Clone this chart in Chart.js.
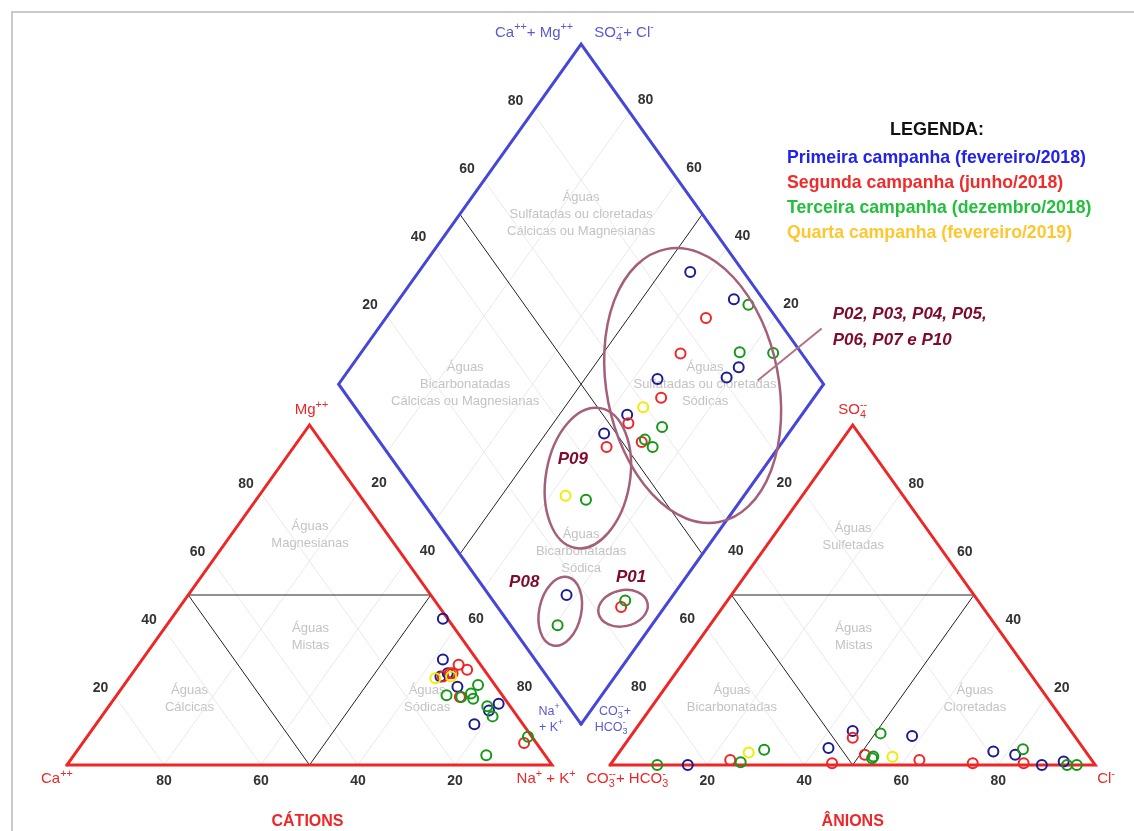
<!DOCTYPE html>
<html lang="pt-BR">
<head>
<meta charset="utf-8">
<title>Diagrama de Piper</title>
<script src="https://cdn.jsdelivr.net/npm/chart.js@4.4.1/dist/chart.umd.min.js"></script>
<style>
  html, body { margin: 0; padding: 0; background: #ffffff; }
  #wrap { width: 1134px; height: 831px; }
  canvas { display: block; }
</style>
</head>
<body>
<div id="wrap"><canvas id="piper" width="1134" height="831"></canvas></div>
<script>
// ---- Sample data (percentages of meq/L) ----
const campaignNames = [
  'Primeira campanha (fevereiro/2018)',
  'Segunda campanha (junho/2018)',
  'Terceira campanha (dezembro/2018)',
  'Quarta campanha (fevereiro/2019)'
];
// campaign index of every sample
const sampleCampaign = [0, 0, 0, 0, 0, 0, 0, 0,
                        1, 1, 1, 1, 1, 1, 1,
                        2, 2, 2, 2, 2, 2, 2, 2, 2,
                        3, 3];
// cations
const pctCa  = [1, 8, 2, 5, 8, 10, 7, 10,   4.5, 7, 3.5, 7.5, 9, 9.5, 2.5,   11.5, 8.7, 6.5, 3.5, 6.2, 4.7, 12.1, 5.1, 0.8,   11.3, 7.8];
const pctMg  = [43, 23, 18, 16, 27, 26, 31, 12,   29.5, 27, 28, 27, 20, 26, 6.5,   20.5, 20, 19.5, 23.5, 21, 17.3, 2.9, 14.3, 8.3,   25.5, 26];
const pctNaK = [56, 69, 80, 79, 65, 64, 62, 78,   66, 66, 68.5, 65.5, 71, 64.5, 91,   68, 71.3, 74, 73, 72.8, 78, 85, 80.6, 90.9,   63.2, 66.2];
// anions
const pctHCO3 = [11, 6, 15, 19, 33.5, 45, 52.5, 84,   14.5, 25, 35.5, 46, 46, 54, 74.5,   66, 45, 44.5, 39.6, 3.8, 12.6, 5.8, 90.3, 72.7,   69.6, 40.6];
const pctSO4  = [0, 1, 3, 4, 8.5, 10, 5, 0,   0.5, 0.5, 1.5, 8, 3, 0.5, 1.5,   4.5, 2, 2.5, 9.3, 0, 4.6, 0, 0, 0.8,   3.7, 2.4];
const pctCl   = [89, 93, 82, 77, 58, 45, 42.5, 16,   85, 74.5, 63, 46, 51, 45.5, 24,   29.5, 53, 53, 51.1, 96.2, 82.8, 94.2, 9.7, 26.5,   26.7, 57];
// axis tick values and grid steps
const tickValues = [20, 40, 60, 80];
const gridValues = [20, 40, 60, 80];

// ---- Styles ----
const FONT = '"Liberation Sans", Arial, Helvetica, sans-serif';
const markerColors = ['#1c1c92', '#f22424', '#179717', '#eeee00'];
const legendColors = ['#2222ee', '#ee2c2c', '#22c03c', '#ffc62e'];
const RED = '#ee2626';
const BLUE = '#4646d8';
const GRID = '#e9e9e9';
const DARK = '#222222';

// ---- Piper geometry (triangle side = 100 units) ----
const SQ = Math.sqrt(3) / 2;
const GAP = 12;
function cationXY(ca, mg, nak) {
  const s = ca + mg + nak;
  const m = mg / s * 100, n = nak / s * 100;
  return { x: n + m / 2, y: m * SQ };
}
function anionXY(hco3, so4, cl) {
  const s = hco3 + so4 + cl;
  const so = so4 / s * 100, c = cl / s * 100;
  return { x: 100 + GAP + c + so / 2, y: so * SQ };
}
function diamondXY(nak, hco3) {
  return { x: 100 + GAP / 2 + (nak - hco3) / 2, y: SQ * (GAP + 200 - nak - hco3) };
}

// scale ranges: units -> canvas
const PX_X = 4.85, PX_Y = 340 / (100 * SQ);
const X_MIN = -67 / PX_X, X_MAX = X_MIN + 1134 / PX_X;
const Y_MIN = -66 / PX_Y, Y_MAX = Y_MIN + 831 / PX_Y;

function polyline(pts, color, width, order) {
  return {
    data: pts, showLine: true, borderColor: color, borderWidth: width,
    pointRadius: 0, pointHoverRadius: 0, fill: false, order: order,
    borderJoinStyle: 'miter', borderCapStyle: 'square'
  };
}

const datasets = [];
// light 20 % grid
gridValues.forEach(v => {
  datasets.push(polyline([cationXY(v, 0, 100 - v), cationXY(v, 100 - v, 0)], GRID, 1, 40));
  datasets.push(polyline([cationXY(100 - v, 0, v), cationXY(0, 100 - v, v)], GRID, 1, 40));
  datasets.push(polyline([anionXY(v, 0, 100 - v), anionXY(v, 100 - v, 0)], GRID, 1, 40));
  datasets.push(polyline([anionXY(100 - v, 0, v), anionXY(0, 100 - v, v)], GRID, 1, 40));
  datasets.push(polyline([diamondXY(v, 0), diamondXY(v, 100)], GRID, 1, 40));
  datasets.push(polyline([diamondXY(0, v), diamondXY(100, v)], GRID, 1, 40));
});
// water-type boundaries
datasets.push(polyline([cationXY(50, 50, 0), cationXY(0, 50, 50), cationXY(50, 0, 50), cationXY(50, 50, 0)], DARK, 1, 30));
datasets.push(polyline([anionXY(50, 50, 0), anionXY(0, 50, 50), anionXY(50, 0, 50), anionXY(50, 50, 0)], DARK, 1, 30));
datasets.push(polyline([diamondXY(0, 50), diamondXY(100, 50)], DARK, 1, 30));
datasets.push(polyline([diamondXY(50, 0), diamondXY(50, 100)], DARK, 1, 30));
// outlines
datasets.push(polyline([cationXY(100, 0, 0), cationXY(0, 0, 100), cationXY(0, 100, 0), cationXY(100, 0, 0)], RED, 3, 20));
datasets.push(polyline([anionXY(100, 0, 0), anionXY(0, 0, 100), anionXY(0, 100, 0), anionXY(100, 0, 0)], RED, 3, 20));
datasets.push(polyline([diamondXY(100, 100), diamondXY(100, 0), diamondXY(0, 0), diamondXY(0, 100), diamondXY(100, 100)], BLUE, 3, 20));

// samples, one dataset per campaign
campaignNames.forEach((name, k) => {
  const pts = [];
  sampleCampaign.forEach((c, i) => {
    if (c !== k) return;
    const cs = pctCa[i] + pctMg[i] + pctNaK[i];
    const as = pctHCO3[i] + pctSO4[i] + pctCl[i];
    pts.push(cationXY(pctCa[i], pctMg[i], pctNaK[i]));
    pts.push(anionXY(pctHCO3[i], pctSO4[i], pctCl[i]));
    pts.push(diamondXY(pctNaK[i] / cs * 100, pctHCO3[i] / as * 100));
  });
  datasets.push({
    label: name, data: pts, showLine: false,
    pointRadius: 5, pointHoverRadius: 5, pointBorderWidth: 2,
    pointBorderColor: markerColors[k], pointBackgroundColor: 'rgba(0,0,0,0)',
    order: 4 - k
  });
});

// ---- text helpers ----
const N = t => ({ t, k: 'n' });
const SUP = t => ({ t, k: 'sup' });
const SS = (sub, sup) => ({ t: [sub, sup], k: 'ss' });

function drawRich(ctx, parts, x, y, o) {
  const size = o.size, small = size * 0.72;
  const st = o.style || 'normal', wt = o.weight || 'normal';
  const big = `${st} ${wt} ${size}px ${FONT}`;
  const sm = `${st} ${wt} ${small}px ${FONT}`;
  const widths = parts.map(p => {
    if (p.k === 'n') { ctx.font = big; return ctx.measureText(p.t).width; }
    ctx.font = sm;
    if (p.k === 'ss') return Math.max(ctx.measureText(p.t[0]).width, ctx.measureText(p.t[1]).width);
    return ctx.measureText(p.t).width;
  });
  const total = widths.reduce((a, b) => a + b, 0);
  const align = o.align || 'center';
  let cx = align === 'center' ? x - total / 2 : (align === 'right' ? x - total : x);
  const base = y + size * 0.36;
  ctx.fillStyle = o.color;
  ctx.textAlign = 'left';
  ctx.textBaseline = 'alphabetic';
  parts.forEach((p, i) => {
    if (p.k === 'n') { ctx.font = big; ctx.fillText(p.t, cx, base); }
    else if (p.k === 'sup') { ctx.font = sm; ctx.fillText(p.t, cx, base - size * 0.42); }
    else { ctx.font = sm; ctx.fillText(p.t[0], cx, base + size * 0.27); ctx.fillText(p.t[1], cx, base - size * 0.42); }
    cx += widths[i];
  });
}

function text(ctx, str, x, y, font, color, align) {
  ctx.font = font;
  ctx.fillStyle = color;
  ctx.textAlign = align || 'center';
  ctx.textBaseline = 'middle';
  ctx.fillText(str, x, y);
}

// water-type names
const regionLabels = [
  { at: cationXY(16.1, 67.6, 16.3), lines: ['Águas', 'Magnesianas'] },
  { at: cationXY(31, 37.6, 31.4), lines: ['Águas', 'Mistas'] },
  { at: cationXY(65, 19.5, 15.5), lines: ['Águas', 'Cálcicas'] },
  { at: cationXY(16, 19.5, 64.5), lines: ['Águas', 'Sódicas'] },
  { at: anionXY(16.4, 67, 16.6), lines: ['Águas', 'Sulfetadas'] },
  { at: anionXY(31, 37.6, 31.4), lines: ['Águas', 'Mistas'] },
  { at: anionXY(65.2, 19.4, 15.4), lines: ['Águas', 'Bicarbonatadas'] },
  { at: anionXY(15.1, 19.4, 65.5), lines: ['Águas', 'Cloretadas'] },
  { at: diamondXY(25, 25), lines: ['Águas', 'Sulfatadas ou cloretadas', 'Cálcicas ou Magnesianas'] },
  { at: diamondXY(26.1, 73.9), lines: ['Águas', 'Bicarbonatadas', 'Cálcicas ou Magnesianas'] },
  { at: diamondXY(75.6, 24.5), lines: ['Águas', 'Sulfatadas ou cloretadas', 'Sódicas'] },
  { at: diamondXY(74.6, 74.6), lines: ['Águas', 'Bicarbonatadas', 'Sódica'] }
];

// highlighted well groups (centre in Na+K / HCO3 diamond terms)
const wellGroups = [
  { nak: 73.2, hco3: 27.2, rx: 86, ry: 139, rot: -11, label: ['P02, P03, P04, P05,', 'P06, P07 e P10'], lx: 140, ly: -71, align: 'left' },
  { nak: 65.2, hco3: 62.4, rx: 42, ry: 71, rot: 10, label: ['P09'], lx: -15, ly: -19, align: 'center' },
  { nak: 79.1, hco3: 87.7, rx: 21, ry: 35, rot: 12, label: ['P08'], lx: -36, ly: -29, align: 'center' },
  { nak: 91.6, hco3: 74.3, rx: 25, ry: 18, rot: -12, label: ['P01'], lx: 8, ly: -31, align: 'center' }
];

const piperDecor = {
  id: 'piperDecor',
  beforeDatasetsDraw(chart) {
    const ctx = chart.ctx;
    const sx = chart.scales.x, sy = chart.scales.y;
    ctx.save();
    // sheet border
    ctx.strokeStyle = '#c9c9c9';
    ctx.lineWidth = 2;
    ctx.beginPath();
    ctx.moveTo(12, 831); ctx.lineTo(12, 12); ctx.lineTo(1134, 12);
    ctx.stroke();
    regionLabels.forEach(r => {
      const x = sx.getPixelForValue(r.at.x), y = sy.getPixelForValue(r.at.y);
      const lh = 17;
      const y0 = y - (r.lines.length - 1) * lh / 2;
      r.lines.forEach((l, i) => text(ctx, l, x, y0 + i * lh, `13px ${FONT}`, '#c3c3c3'));
    });
    ctx.restore();
  },
  afterDatasetsDraw(chart) {
    const ctx = chart.ctx;
    const sx = chart.scales.x, sy = chart.scales.y;
    const P = pt => ({ x: sx.getPixelForValue(pt.x), y: sy.getPixelForValue(pt.y) });
    ctx.save();

    // tick labels
    const tf = `bold 14px ${FONT}`, tc = '#333333';
    tickValues.forEach(v => {
      let p;
      p = P(cationXY(v, 0, 100 - v)); text(ctx, String(v), p.x, p.y + 16, tf, tc);
      p = P(cationXY(100 - v, v, 0)); text(ctx, String(v), p.x - 15, p.y - 9, tf, tc);
      p = P(cationXY(0, 100 - v, v)); text(ctx, String(v), p.x + 21, p.y - 10, tf, tc);
      p = P(anionXY(100 - v, 0, v)); text(ctx, String(v), p.x, p.y + 16, tf, tc);
      p = P(anionXY(0, v, 100 - v)); text(ctx, String(v), p.x + 15, p.y - 9, tf, tc);
      p = P(anionXY(v, 100 - v, 0)); text(ctx, String(v), p.x - 20, p.y - 10, tf, tc);
      p = P(diamondXY(0, 100 - v)); text(ctx, String(v), p.x - 17, p.y - 11, tf, tc);
      p = P(diamondXY(100 - v, 0)); text(ctx, String(v), p.x + 16, p.y - 12, tf, tc);
    });

    // vertex / ion names
    let p = P(cationXY(100, 0, 0));
    drawRich(ctx, [N('Ca'), SUP('++')], p.x - 26, p.y + 13, { size: 15, color: RED, align: 'left' });
    p = P(cationXY(0, 0, 100));
    drawRich(ctx, [N('Na'), SUP('+'), N(' + K'), SUP('+')], p.x - 6, p.y + 13, { size: 15, color: RED });
    p = P(cationXY(0, 100, 0));
    drawRich(ctx, [N('Mg'), SUP('++')], p.x + 2, p.y - 16, { size: 15, color: RED });
    p = P(anionXY(100, 0, 0));
    drawRich(ctx, [N('CO'), SS('3', '--'), N('+ HCO'), SS('3', '-')], p.x + 17, p.y + 13, { size: 15, color: RED });
    p = P(anionXY(0, 0, 100));
    drawRich(ctx, [N('Cl'), SUP('-')], p.x + 2, p.y + 13, { size: 15, color: RED, align: 'left' });
    p = P(anionXY(0, 100, 0));
    drawRich(ctx, [N('SO'), SS('4', '--')], p.x, p.y - 16, { size: 15, color: RED });

    p = P(diamondXY(0, 0));
    drawRich(ctx, [N('Ca'), SUP('++'), N('+ Mg'), SUP('++')], p.x - 47, p.y - 13, { size: 15, color: '#5a5ad2' });
    drawRich(ctx, [N('SO'), SS('4', '--'), N('+ Cl'), SUP('-')], p.x + 43, p.y - 13, { size: 15, color: '#5a5ad2' });
    p = P(diamondXY(100, 100));
    drawRich(ctx, [N('Na'), SUP('+')], p.x - 32, p.y - 14, { size: 12.5, color: '#5a5ad2' });
    drawRich(ctx, [N('+ K'), SUP('+')], p.x - 30, p.y + 2, { size: 12.5, color: '#5a5ad2' });
    drawRich(ctx, [N('CO'), SS('3', '--'), N('+')], p.x + 34, p.y - 14, { size: 12.5, color: '#5a5ad2' });
    drawRich(ctx, [N('HCO'), SS('3', '-')], p.x + 30, p.y + 2, { size: 12.5, color: '#5a5ad2' });

    p = P(cationXY(50, 0, 50));
    text(ctx, 'CÁTIONS', p.x - 2, p.y + 57, `bold 16px ${FONT}`, RED);
    p = P(anionXY(50, 0, 50));
    text(ctx, 'ÂNIONS', p.x, p.y + 57, `bold 16px ${FONT}`, RED);

    // highlighted groups
    wellGroups.forEach(g => {
      const c = P(diamondXY(g.nak, g.hco3));
      ctx.strokeStyle = '#a4607a';
      ctx.lineWidth = 2.5;
      ctx.beginPath();
      ctx.ellipse(c.x, c.y, g.rx, g.ry, g.rot * Math.PI / 180, 0, Math.PI * 2);
      ctx.stroke();
      g.label.forEach((l, i) => text(ctx, l, c.x + g.lx, c.y + g.ly + i * 26, `italic bold 17px ${FONT}`, '#7e0b2c', g.align));
      if (g.label.length > 1) {
        ctx.strokeStyle = '#b07282';
        ctx.lineWidth = 2;
        ctx.beginPath();
        ctx.moveTo(c.x + 65, c.y - 5);
        ctx.lineTo(c.x + 129, c.y - 57);
        ctx.stroke();
      }
    });

    // legend
    text(ctx, 'LEGENDA:', 937, 130, `bold 18px ${FONT}`, '#111111');
    campaignNames.forEach((name, k) => {
      text(ctx, name, 787, 158 + k * 25, `bold 17.7px ${FONT}`, legendColors[k], 'left');
    });
    ctx.restore();
  }
};

new Chart(document.getElementById('piper'), {
  type: 'scatter',
  data: { datasets },
  options: {
    responsive: false,
    maintainAspectRatio: false,
    animation: false,
    devicePixelRatio: 1,
    events: [],
    layout: { padding: 0, autoPadding: false },
    plugins: { legend: { display: false }, tooltip: { enabled: false } },
    scales: {
      x: { type: 'linear', display: false, min: X_MIN, max: X_MAX },
      y: { type: 'linear', display: false, min: Y_MIN, max: Y_MAX }
    }
  },
  plugins: [piperDecor]
});
</script>
</body>
</html>
